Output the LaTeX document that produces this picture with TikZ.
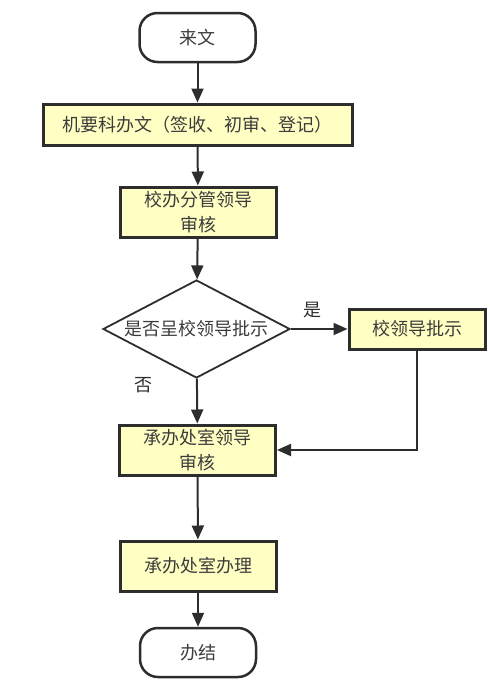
\documentclass[tikz,border=0pt]{standalone}
\usepackage{fontspec}
\setmainfont{Noto Sans CJK SC}
\usepackage{tikz}
\usetikzlibrary{positioning,arrows.meta,shapes.geometric}
\definecolor{cline}{RGB}{45,45,45}
\definecolor{cbox}{RGB}{255,255,196}
\definecolor{ctext}{RGB}{60,60,60}

\begin{document}
\begin{tikzpicture}[x=1pt,y=-1pt,font=\fontsize{18}{25}\selectfont,text=ctext,
  term/.style={draw=cline,line width=2.5pt,rounded corners=18pt,fill=white,minimum width=116pt,minimum height=49pt},
  proc/.style={draw=cline,line width=3pt,fill=cbox,minimum width=156pt,minimum height=50pt,align=center,inner sep=0pt},
  test/.style={draw=cline,line width=1.8pt,diamond,aspect=1.9,minimum width=187pt,minimum height=98pt,inner sep=0pt},
  flow/.style={-{Triangle[length=14pt,width=12pt]},cline,line width=2pt},
]
\useasboundingbox (0,0) rectangle (490,694);
\node[term] (start) at (197.5,37.5) {来文};
\node[proc,minimum width=309pt,minimum height=41pt] (reg) at (197.5,124.5) {机要科办文（签收、初审、登记）};
\node[proc] (lead) at (198,212) {校办分管领导\\审核};
\node[test] (dec) at (196.5,329) {是否呈校领导批示};
\node[proc,minimum width=136pt,minimum height=40pt] (sign) at (417,329) {校领导批示};
\node[proc] (dept) at (197.5,450) {承办处室领导\\审核};
\node[proc] (handle) at (198,566) {承办处室办理};
\node[term] (finish) at (198,652.5) {办结};
\draw[flow] (start) -- (reg);
\draw[flow] (reg) -- (lead);
\draw[flow] (lead) -- (dec);
\draw[flow] (dec) -- node[above=7pt,pos=0.38]{是} (sign);
\draw[flow] (dec) -- node[left=40pt,pos=0.15]{否} (dept);
\draw[flow] (sign) |- (dept);
\draw[flow] (dept) -- (handle);
\draw[flow] (handle) -- (finish);
\end{tikzpicture}
\end{document}
